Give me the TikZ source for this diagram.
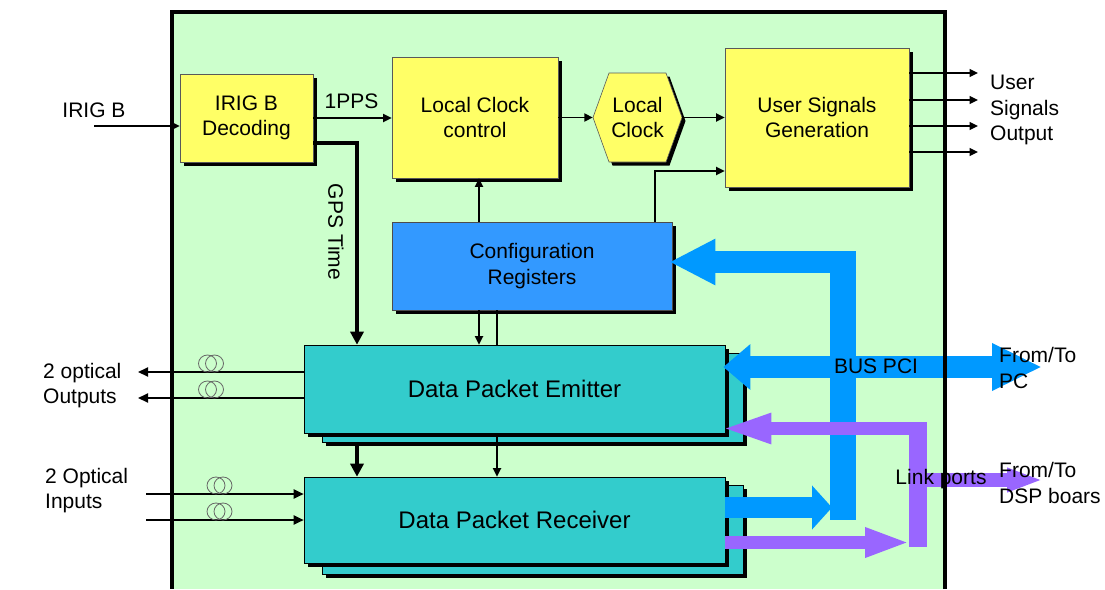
\documentclass[tikz,border=0pt]{standalone}
\usepackage{fontspec}
\setmainfont{Liberation Sans}
\usetikzlibrary{arrows.meta,shadows}

\definecolor{boardgreen}{HTML}{CCFFCC}
\definecolor{blockyellow}{HTML}{FFFF66}
\definecolor{regblue}{HTML}{3399FF}
\definecolor{packetcyan}{HTML}{33CCCC}
\definecolor{pciblue}{HTML}{0099FF}
\definecolor{linkpurple}{HTML}{9966FF}

\begin{document}
\begin{tikzpicture}[x=1pt,y=-1pt,
    every node/.style={font=\fontsize{21}{25.5}\selectfont, align=center, inner sep=0pt},
    shade3/.style={drop shadow={shadow xshift=3.5pt, shadow yshift=-3.5pt, fill=black, opacity=1}},
    yblock/.style={fill=blockyellow, draw=black!65, line width=0.6pt, shade3},
    rblock/.style={fill=regblue, draw=black!70, line width=0.6pt, shade3},
    cblock/.style={fill=packetcyan, draw=black, line width=0.6pt, shade3},
    sig/.style={line width=1.8pt, -{Triangle[length=8.5pt,width=8pt]}},
    gpsline/.style={line width=4pt, -{Triangle[length=13pt,width=13pt]}},
    optic/.style={line width=2pt, -{Triangle[length=10pt,width=9pt]}},
    fiber/.style={draw=black!60, line width=0.8pt},
    pcibus/.style={pciblue, line width=22pt},
    linkbus/.style={linkpurple, line width=13pt}]
    \useasboundingbox (0,0) rectangle (1105,589);
    \fill[boardgreen] (172,12) rectangle (945,589);

    % timing chain
    \node[yblock, minimum width=133pt, minimum height=88pt] (dec) at (246.5,118) {IRIG B\\Decoding};
    \node[yblock, minimum width=166pt, minimum height=121pt] (lcc) at (475,117.5) {Local Clock\\control};
    \filldraw[yblock] (593,117.5) -- (609,73) -- (666,73) -- (682,117.5) -- (666,162) -- (609,162) -- cycle;
    \node[minimum width=89pt, minimum height=89pt] (lclk) at (637.5,117.5) {Local\\Clock};
    \node[yblock, minimum width=184pt, minimum height=139pt] (usg) at (817,117.5) {User Signals\\Generation};
    \node[rblock, minimum width=280pt, minimum height=88pt] (cfg) at (532,266) {Configuration\\Registers};

    % packet blocks, stacked
    \node[cblock, minimum width=421pt, minimum height=89pt] (emitb) at (532.5,397.5) {};
    \node[cblock, minimum width=421pt, minimum height=88pt, font=\fontsize{24}{28}\selectfont] (emit) at (514.5,389) {Data Packet Emitter};
    \node[cblock, minimum width=421pt, minimum height=89pt] (recvb) at (532.5,529.5) {};
    \node[cblock, minimum width=421pt, minimum height=86pt, font=\fontsize{24}{28}\selectfont] (recv) at (514.5,520) {Data Packet Receiver};

    \coordinate (irigin) at (94,126);
    \coordinate (gpsx) at (357,143);
    \coordinate (usrout) at (978,117.5);
    \coordinate (optout) at (138,389);
    \coordinate (optin) at (146,520);

    \draw[sig] (irigin) -- (irigin -| dec.west);
    \draw[sig] (dec.east) -- (dec.east -| lcc.west);
    \draw[sig] (lcc.east) -- (lclk.west);
    \draw[sig] (lclk.east) -- (usg.west);
    \draw[sig] ([xshift=-53pt]cfg.north) -- ([xshift=-53pt]cfg.north |- lcc.south);
    \draw[sig] ([xshift=123pt]cfg.north) |- ([yshift=-53.5pt]usg.west);
    \foreach \d in {44.5,17.5,-8.5,-34.5}
        \draw[sig, line width=1.5pt] ([yshift=\d pt]usg.east) -- ([yshift=\d pt]usrout);
    \draw[sig] ([xshift=-53pt]cfg.south) -- ([xshift=-53pt]cfg.south |- emit.north);
    \draw[line width=1.8pt] ([xshift=-35pt]cfg.south) -- ([xshift=-35pt]cfg.south |- emit.north);
    \draw[sig] ([xshift=-17.5pt]emit.south) -- ([xshift=-17.5pt]emit.south |- recv.north);
    \draw[gpsline] ([yshift=-25pt]dec.east) -| (gpsx |- emit.north);
    \draw[gpsline] (gpsx |- emitb.south) -- (gpsx |- recv.north);

    % optical links with fibre loops
    \foreach \d in {17,-9}
        \draw[optic] ([yshift=\d pt]emit.west) -- ([yshift=\d pt]optout);
    \foreach \d in {26,0}
        \draw[optic] ([yshift=\d pt]optin) -- ([yshift=\d pt]recv.west);
    \foreach \cx/\cy in {207.5/363.5, 207.5/389.5, 216/485.5, 216/511.5}{
        \draw[fiber] (\cx,\cy) ellipse [x radius=9pt, y radius=8.5pt];
        \draw[fiber] (\cx+7,\cy) ellipse [x radius=9pt, y radius=8.5pt];
    }

    % PCI bus
    \coordinate (pcitop) at (856,262);
    \coordinate (pcibot) at (832,507.5);
    \coordinate (pcpc) at (1042,367);
    \fill[pciblue] (830,251) rectangle (856,520);
    \draw[pcibus, -{Triangle[length=46pt,width=43pt]}] (pcitop) -- ([shift={(-3pt,4pt)}]cfg.east);
    \draw[pcibus, {Triangle[length=27pt,width=44pt]}-{Triangle[length=50pt,width=44pt]}] ([shift={(-2pt,22pt)}]emit.east) -- (pcpc);
    \draw[pcibus, line width=21pt, -{Triangle[length=20pt,width=43pt]}] ([yshift=12.5pt]recv.east) -- (pcibot);

    % link ports
    \coordinate (linktop) at (927,428.5);
    \coordinate (linkbot) at (910,542.5);
    \coordinate (linkmid) at (927,480);
    \coordinate (dsp) at (1043,480);
    \fill[linkpurple] (909,422) rectangle (927,547);
    \draw[linkbus, -{Triangle[length=51pt,width=27pt]}] (linktop) -- ([shift={(-5pt,-39.5pt)}]emit.east);
    \draw[linkbus, -{Triangle[length=45pt,width=27pt]}] ([yshift=-22.5pt]recv.east) -- (linkbot);
    \draw[linkbus, line width=14pt, -{Triangle[length=36pt,width=22pt]}] (linkmid) -- (dsp);

    \draw[line width=3.2pt] (945,589) -- (945,12) -- (172,12) -- (172,589);

    % labels
    \node (irig) at (94,110.5) {IRIG B};
    \node (pps) at (351.5,101.5) {1PPS};
    \node[rotate=-90] (gpstime) at (336,232) {GPS Time};
    \node[anchor=west, align=left] (usrlbl) at (990,110) {User\\Signals\\Output};
    \node[anchor=west, align=left] (outlbl) at (43,385.5) {2 optical\\Outputs};
    \node[anchor=west, align=left] (inlbl) at (45,490.5) {2 Optical\\Inputs};
    \node (pcilbl) at (876,366) {BUS PCI};
    \node (linklbl) at (941,479) {Link ports};
    \node[anchor=west, align=left] (pclbl) at (999,368) {From/To\\PC};
    \node[anchor=west, align=left] (dsplbl) at (999,483) {From/To\\DSP boars};
\end{tikzpicture}
\end{document}
